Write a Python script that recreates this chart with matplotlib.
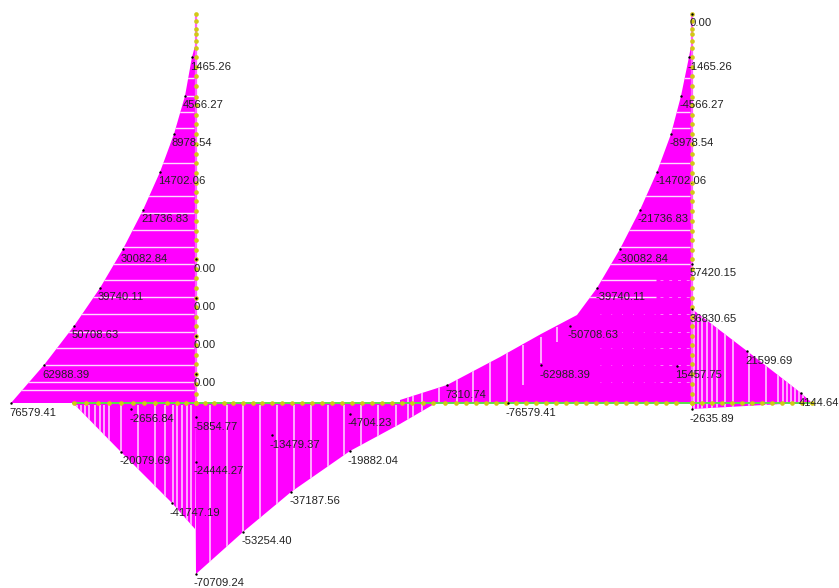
import matplotlib
matplotlib.use("Agg")
import matplotlib.pyplot as plt

#OUTLINES (picture coordinates, y goes down)
left_col_x = [196, 195, 192, 185, 174, 160, 143, 123, 100, 74, 44, 11, 196]
left_col_y = [14, 46, 57, 96, 134, 172, 210, 249, 288, 326, 365, 403, 403]

right_col_x = [692, 691, 689, 681, 671, 657, 640, 620, 597, 577, 541, 500, 447, 400, 400, 692]
right_col_y = [14, 46, 57, 96, 134, 172, 210, 249, 288, 315, 334, 357, 385, 400, 403, 403]

lower_left_x = [73, 121, 172, 195, 195]
lower_left_y = [403, 452, 503, 529, 403]

lower_mid_x = [195, 196, 243, 291, 350, 400, 436]
lower_mid_y = [403, 574, 532, 492, 451, 424, 403]

fan_x = [692, 692, 747, 801, 812, 800, 692]
fan_y = [403, 309, 351, 393, 403, 403, 409]

#WHITE STRIPES
left_stripes = [78, 96, 112, 128, 163, 196, 213, 230, 247, 264, 280, 297, 314, 332, 348, 365, 382, 390]
right_stripes = [78, 112, 128, 163, 196, 230, 247, 264]
right_stripes_short = [280, 297]
beam_stripes = [77, 81, 85, 89, 95, 100, 104, 109, 121, 138, 155, 165, 173, 177, 182, 187, 191,
                210, 227, 243, 260, 277, 294, 311, 328, 344, 361, 378, 396]
upper_stripes = [408, 413, 422, 439, 457, 473, 490, 507]
upper_stripe_x = [523, 541, 557]
upper_stripe_top = [345, 337, 327]
upper_stripe_bot = [385, 363, 342]
fan_stripes = [694, 698, 702, 707, 712, 717, 725, 733, 749, 766, 778, 783, 787, 791, 795, 799, 803]

#NODES
col_nodes = [14, 21, 29, 34, 41, 48, 57, 67, 76, 86, 97, 105, 115, 124, 134, 144, 154, 163, 173, 183, 192,
             201, 211, 221, 231, 240, 250, 259, 269, 278, 288, 298, 307, 317, 326, 336, 345, 355, 364, 374, 384, 394, 403]
base_nodes = [74, 86, 98, 109, 121, 133, 144, 155, 167, 177, 186, 196, 205, 214, 224, 233, 243, 253, 262, 272,
              282, 292, 302, 312, 322, 332, 342, 352, 362, 372, 382, 392, 402, 412, 423, 433, 445, 456, 466,
              476, 486, 496, 506, 516, 526, 536, 546, 556, 566, 576, 586, 596, 606, 616, 626, 636, 646, 656,
              666, 676, 692, 702, 712, 722, 732, 742, 752, 762, 772, 782, 792, 802, 812]

#LABELS
labels = ["1465.26", "4566.27", "8978.54", "14702.06", "21736.83", "30082.84", "39740.11", "50708.63", "62988.39", "76579.41",
          "0.00", "0.00", "0.00", "0.00",
          "-2656.84", "-20079.69", "-41747.19", "-5854.77", "-24444.27", "-70709.24",
          "-13479.37", "-4704.23", "-19882.04", "-37187.56", "-53254.40",
          "7310.74", "-76579.41", "-62988.39", "-50708.63", "-39740.11", "-30082.84", "-21736.83", "-14702.06",
          "-8978.54", "-4566.27", "-1465.26", "0.00",
          "57420.15", "36830.65", "15457.75", "-2635.89", "21599.69", "4144.64"]
label_x = [192, 185, 174, 160, 143, 123, 100, 74, 44, 11,
           196, 196, 196, 196,
           131, 121, 172, 196, 196, 196,
           272, 350, 350, 291, 243,
           447, 508, 541, 570, 597, 620, 640, 657,
           671, 681, 689, 692,
           692, 692, 677, 692, 747, 801]
label_y = [57, 96, 134, 172, 210, 249, 288, 326, 365, 403,
           259, 298, 336, 374,
           409, 452, 503, 417, 462, 574,
           435, 414, 451, 492, 532,
           385, 403, 365, 326, 288, 249, 210, 172,
           134, 96, 57, 14,
           264, 309, 366, 409, 351, 393]

MAGENTA = "#ff00ff"
STRIPE = "#ffd8ff"

fig = plt.figure(figsize=(8.39, 5.88), dpi=100)
ax = fig.add_axes([0, 0, 1, 1])
ax.set_xlim(0, 839)
ax.set_ylim(588, 0)
ax.axis("off")

#FILLS
left_col = ax.fill(left_col_x, left_col_y, color=MAGENTA, lw=0, zorder=1)[0]
right_col = ax.fill(right_col_x, right_col_y, color=MAGENTA, lw=0, zorder=1)[0]
lower_left = ax.fill(lower_left_x, lower_left_y, color=MAGENTA, lw=0, zorder=1)[0]
lower_mid = ax.fill(lower_mid_x, lower_mid_y, color=MAGENTA, lw=0, zorder=1)[0]
fan = ax.fill(fan_x, fan_y, color=MAGENTA, lw=0, zorder=1)[0]

#thin column tops
ax.plot([196, 196], [14, 403], color="#ff60ff", lw=1.6, zorder=1)
ax.plot([692, 692], [14, 403], color="#ff60ff", lw=1.6, zorder=1)

#STRIPES, clipped to the fills
def stripes(coll, patch):
    coll.set_clip_path(patch)

stripes(ax.hlines(left_stripes, 0, 194, color=STRIPE, lw=1, zorder=2), left_col)
stripes(ax.hlines(right_stripes, 500, 690, color=STRIPE, lw=1, zorder=2), right_col)
stripes(ax.hlines(right_stripes_short, 500, 656, color=STRIPE, lw=1, zorder=2), right_col)
ax.hlines([280, 297, 314, 332, 348, 365, 382], 660, 690, color="white", lw=0.7, linestyles=(0, (3, 6)), zorder=2, alpha=0.5)
ax.hlines([314, 332, 348, 365, 382], 600, 660, color="white", lw=0.6, linestyles=(0, (1, 12)), zorder=2, alpha=0.5)

stripes(ax.vlines(beam_stripes[:17], 405, 540, color=STRIPE, lw=1.1, zorder=2), lower_left)
stripes(ax.vlines(beam_stripes[17:], 405, 580, color=STRIPE, lw=1.1, zorder=2), lower_mid)
stripes(ax.vlines(upper_stripes, 340, 402, color=STRIPE, lw=1.1, zorder=2), right_col)
stripes(ax.vlines(upper_stripes[:3], 403, 430, color=STRIPE, lw=1.1, zorder=2), lower_mid)
ax.vlines(upper_stripe_x, upper_stripe_top, upper_stripe_bot, color=STRIPE, lw=1.1, zorder=2)
stripes(ax.vlines(fan_stripes, 300, 412, color=STRIPE, lw=1.1, zorder=2), fan)

#BASELINE AND NODES
ax.plot([73, 812], [403, 403], color="#5ce04a", lw=1.4, zorder=3)
ax.scatter(base_nodes, [403] * len(base_nodes), s=11, color="#d2c814", lw=0, zorder=4)
ax.scatter([196] * len(col_nodes), col_nodes, s=11, color="#d2c814", lw=0, zorder=4)
ax.scatter([692] * len(col_nodes), col_nodes, s=11, color="#d2c814", lw=0, zorder=4)

#LABELS
ax.scatter(label_x, label_y, s=3, color="black", lw=0, zorder=5)
for txt, x, y in zip(labels, label_x, label_y):
    ax.text(x - 2, y + 9.5, txt, family="Liberation Sans", fontsize=8.1, color="#222222",
            ha="left", va="center", zorder=6)

fig.savefig("out.png", dpi=100)
